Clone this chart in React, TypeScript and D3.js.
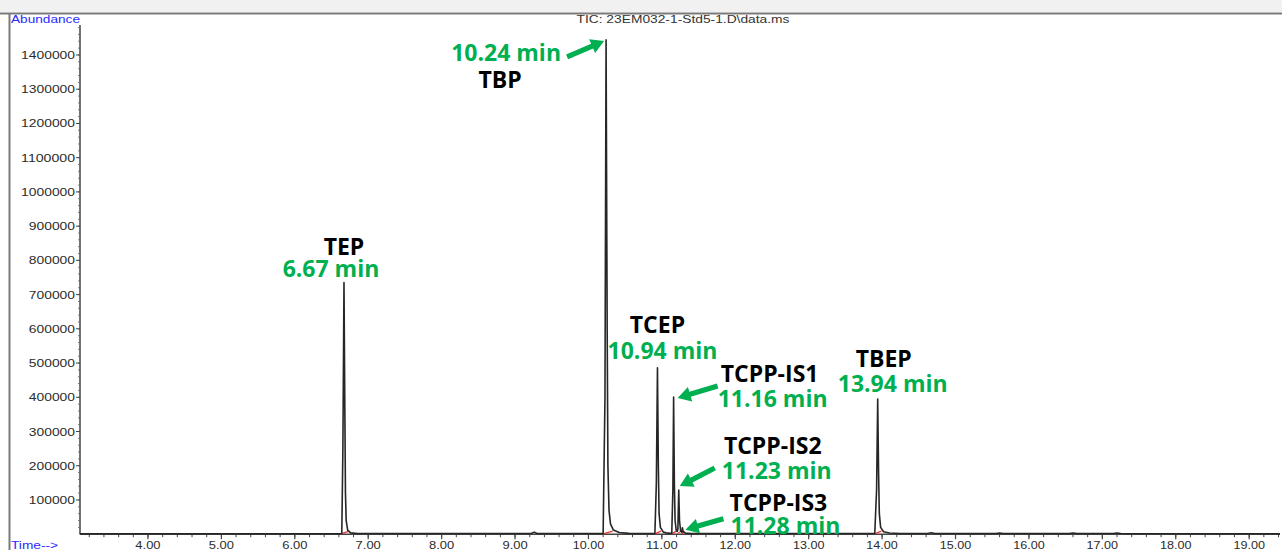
import * as d3 from 'd3';
import React from 'react';

// chromatogram trace: [time (min), abundance]
const trace: [number, number][] = [
  [3.07, 1500], [6.6, 1500],
  // TEP
  [6.64, 2000], [6.655, 250000], [6.67, 735000], [6.682, 350000], [6.69, 120000], [6.7, 40000],
  [6.72, 12000], [6.76, 4000], [6.85, 2000],
  [9.22, 2000], [9.26, 6000], [9.3, 2000],
  // TBP
  [10.2, 2000], [10.225, 400000], [10.24, 1444000], [10.255, 600000], [10.265, 200000], [10.28, 70000],
  [10.3, 30000], [10.34, 12000], [10.42, 5000], [10.55, 2500], [10.88, 2000],
  // TCEP
  [10.905, 2000], [10.925, 150000], [10.94, 486000], [10.952, 200000], [10.962, 60000], [10.98, 20000],
  [11.02, 6000], [11.08, 3000], [11.12, 2500],
  // TCPP-IS1
  [11.135, 3000], [11.15, 130000], [11.16, 401000], [11.17, 150000], [11.18, 40000], [11.195, 12000], [11.21, 8000],
  // TCPP-IS2
  [11.218, 15000], [11.23, 129000], [11.24, 40000], [11.255, 10000], [11.27, 6000],
  // TCPP-IS3
  [11.275, 8000], [11.28, 19000], [11.29, 7000], [11.32, 3000], [11.4, 2000],
  // TBEP
  [13.9, 2000], [13.925, 130000], [13.94, 395000], [13.952, 180000], [13.962, 60000], [13.98, 20000],
  [14.02, 7000], [14.1, 3500], [14.25, 2000],
  [14.62, 2000], [14.67, 4000], [14.72, 2000],
  [15.55, 2000], [15.6, 3500], [15.65, 2000],
  [16.55, 2000], [16.6, 3500], [16.65, 2000],
  [17.15, 2000], [17.2, 3500], [17.25, 2000],
  [19.42, 1500],
];

const peakNames = ['TEP', 'TBP', 'TCEP', 'TCPP-IS1', 'TCPP-IS2', 'TCPP-IS3', 'TBEP'];
const retentionTimes = [6.67, 10.24, 10.94, 11.16, 11.23, 11.28, 13.94];
const peakHeights = [735000, 1444000, 486000, 401000, 129000, 19000, 395000];
const peakBases: [number, number][] = [
  [6.63, 6.74], [10.2, 10.33], [10.9, 10.99], [11.13, 11.2], [11.21, 11.26], [11.27, 11.31], [13.9, 13.99],
];

const xTickLabels = ['4.00', '5.00', '6.00', '7.00', '8.00', '9.00', '10.00', '11.00', '12.00',
  '13.00', '14.00', '15.00', '16.00', '17.00', '18.00', '19.00'];
const yTickValues = [100000, 200000, 300000, 400000, 500000, 600000, 700000, 800000, 900000,
  1000000, 1100000, 1200000, 1300000, 1400000];

const title = 'TIC: 23EM032-1-Std5-1.D\\data.ms';

// label placement relative to each peak apex (pixels)
const labelLayout = [
  { name: [0, -28], time: [-13, -6] },
  { name: [-106, 48], time: [-100, 21], arrow: { head: [-2, 1], tail: [-37, 16] } },
  { name: [0, -35], time: [5, -9] },
  { name: [96, -15], time: [99, 10], arrow: { head: [4, 1], tail: [40, -12] } },
  { name: [94, -36], time: [98, -11], arrow: { head: [1, -4], tail: [35, -18] } },
  { name: [96, -17], time: [103, 6], arrow: { head: [3, 2], tail: [38, -11] } },
  { name: [6, -32], time: [15, -7] },
];

const W = 1282;
const H = 550;
const GREEN = '#00b050';
const AXIS_FONT = '"Liberation Sans", Arial, sans-serif';
const LABEL_FONT = '"Open Sans", "Noto Sans", sans-serif';

function arrowPath(hx: number, hy: number, tx: number, ty: number) {
  const dx = hx - tx;
  const dy = hy - ty;
  const len = Math.hypot(dx, dy);
  const ux = dx / len;
  const uy = dy / len;
  const px = -uy;
  const py = ux;
  const headLen = 13;
  const headW = 7.5;
  const shaftW = 2.6;
  const bx = hx - ux * headLen;
  const by = hy - uy * headLen;
  const pts = [
    [tx + px * shaftW, ty + py * shaftW],
    [bx + px * shaftW, by + py * shaftW],
    [bx + px * headW, by + py * headW],
    [hx, hy],
    [bx - px * headW, by - py * headW],
    [bx - px * shaftW, by - py * shaftW],
    [tx - px * shaftW, ty - py * shaftW],
  ];
  return 'M' + pts.map((p) => p.join(',')).join('L') + 'Z';
}

export default function App() {
  const x = d3.scaleLinear().domain([3.074, 19.42]).range([80, 1280]);
  const y = d3.scaleLinear().domain([0, 1487600]).range([534.2, 25]);

  const line = d3.line<[number, number]>()
    .x((d) => x(d[0]))
    .y((d) => y(d[1]));

  const xMinor = d3.range(16, 98).map((i) => i * 0.2).filter((t) => t > x.domain()[0] && t < x.domain()[1]);
  const yMinor = d3.range(1, 75).map((i) => i * 20000);

  return (
    <div style={{ position: 'absolute', left: 0, top: 0 }}>
      <svg width={W} height={H} style={{ display: 'block', background: '#fff' }}>
        {/* window frame */}
        <rect x={0} y={0} width={W} height={12} fill="#f1f1f1" />
        <line x1={0} x2={W} y1={13.5} y2={13.5} stroke="#7a7a7a" strokeWidth={2} />
        <line x1={9.5} x2={9.5} y1={13} y2={H} stroke="#7a7a7a" strokeWidth={2} />

        <text x={11} y={23} fontFamily={AXIS_FONT} fontSize={11} fill="#2a2aff"
          textLength={69} lengthAdjust="spacingAndGlyphs">Abundance</text>
        <text x={11} y={549} fontFamily={AXIS_FONT} fontSize={11} fill="#2a2aff"
          textLength={47} lengthAdjust="spacingAndGlyphs">Time--&gt;</text>
        <text x={683} y={23} textAnchor="middle" fontFamily={AXIS_FONT} fontSize={11} fill="#333"
          textLength={213} lengthAdjust="spacingAndGlyphs">{title}</text>

        {/* y axis */}
        <line x1={80} x2={80} y1={y.range()[1]} y2={y(0)} stroke="#444" strokeWidth={1.5} />
        {yMinor.map((v) => (
          <line key={'ym' + v} x1={78} x2={80} y1={y(v)} y2={y(v)} stroke="#666" strokeWidth={0.8} />
        ))}
        {yTickValues.map((v) => (
          <g key={'y' + v}>
            <line x1={76} x2={80} y1={y(v)} y2={y(v)} stroke="#444" strokeWidth={1} />
            <text x={75} y={y(v) + 4} textAnchor="end" fontFamily={AXIS_FONT} fontSize={11} fill="#2b2b2b"
              textLength={String(v).length * 7.7} lengthAdjust="spacingAndGlyphs">{v}</text>
          </g>
        ))}

        {/* x axis */}
        <line x1={80} x2={1280} y1={y(0)} y2={y(0)} stroke="#444" strokeWidth={1.5} />
        {xMinor.map((t) => (
          <line key={'xm' + t} x1={x(t)} x2={x(t)} y1={y(0)} y2={y(0) + 3} stroke="#444" strokeWidth={1} />
        ))}
        {xTickLabels.map((lab) => (
          <g key={'x' + lab}>
            <line x1={x(+lab)} x2={x(+lab)} y1={y(0)} y2={y(0) + 5} stroke="#444" strokeWidth={1.2} />
            <text x={x(+lab)} y={549} textAnchor="middle" fontFamily={AXIS_FONT} fontSize={11} fill="#2b2b2b"
              textLength={lab.length * 6.3} lengthAdjust="spacingAndGlyphs">{lab}</text>
          </g>
        ))}

        {/* integration baselines */}
        {peakBases.map(([a, b], i) => (
          <line key={'b' + i} x1={x(a)} x2={x(b)} y1={y(1000)} y2={y(9000)} stroke="#e8312f" strokeWidth={1.2} />
        ))}

        {/* trace */}
        <path d={line(trace) ?? ''} fill="none" stroke="#262626" strokeWidth={1.6} strokeLinejoin="round" />

        {/* annotations */}
        {peakNames.map((name, i) => {
          const ax = x(retentionTimes[i]);
          const ay = y(peakHeights[i]);
          const l = labelLayout[i];
          return (
            <g key={name} fontFamily={LABEL_FONT} fontWeight={700} fontSize={23} textAnchor="middle">
              <text x={ax + l.name[0]} y={ay + l.name[1]} fill="#000">{name}</text>
              <text x={ax + l.time[0]} y={ay + l.time[1]} fill={GREEN}>{retentionTimes[i].toFixed(2)} min</text>
              {l.arrow && (
                <path
                  d={arrowPath(ax + l.arrow.head[0], ay + l.arrow.head[1],
                    ax + l.arrow.head[0] + l.arrow.tail[0], ay + l.arrow.head[1] + l.arrow.tail[1])}
                  fill={GREEN}
                />
              )}
            </g>
          );
        })}
      </svg>
    </div>
  );
}
